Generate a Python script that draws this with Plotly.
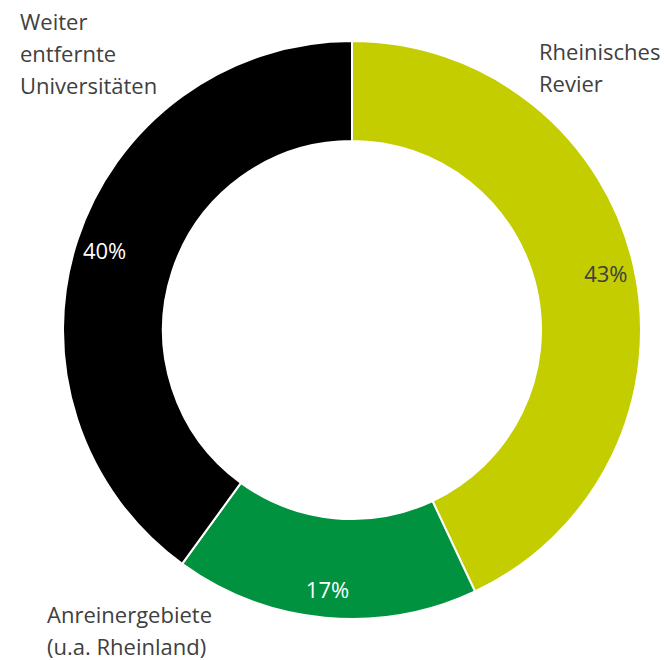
import plotly.graph_objects as go

labels = ["Rheinisches Revier", "Anreinergebiete (u.a. Rheinland)", "Weiter entfernte Universitäten"]
values = [43, 17, 40]
colors = ["#C3CD00", "#00923F", "#000000"]
text_colors = ["#404040", "#FFFFFF", "#FFFFFF"]

W, H = 664, 660
FONT = "Open Sans"

# ring position in pixels: outer circle 63..641 x 41..619
domain = dict(x=[63 / W, 641 / W], y=[(H - 619) / H, (H - 41) / H])

fig = go.Figure()

fig.add_trace(
    go.Pie(
        labels=labels,
        values=values,
        hole=0.654,
        sort=False,
        direction="clockwise",
        rotation=0,
        marker=dict(colors=colors, line=dict(color="#FFFFFF", width=2)),
        textinfo="none",
        hoverinfo="label+percent",
        domain=domain,
        showlegend=False,
    )
)

# transparent outer ring that only carries the percentage labels,
# so they sit a bit outside the middle of the ring like in the original
fig.add_trace(
    go.Pie(
        labels=labels,
        values=values,
        hole=0.8,
        sort=False,
        direction="clockwise",
        rotation=0,
        marker=dict(colors=["rgba(0,0,0,0)"] * 3, line=dict(width=0)),
        texttemplate="%{value}%",
        textposition="inside",
        insidetextorientation="horizontal",
        textfont=dict(family=FONT, size=22, color=text_colors),
        hoverinfo="skip",
        domain=domain,
        showlegend=False,
    )
)

label_font = dict(family=FONT, size=22, color="#404040")
corner_labels = [
    (["Weiter", "entfernte", "Universitäten"], 18, 21),
    (["Rheinisches", "Revier"], 537, 51),
    (["Anreinergebiete", "(u.a. Rheinland)"], 45, 614),
]
for lines, px_x, px_y in corner_labels:
    for i, line in enumerate(lines):
        fig.add_annotation(
            text=line,
            x=px_x / W,
            y=1 - (px_y + 32 * i) / H,
            xref="paper",
            yref="paper",
            xanchor="left",
            yanchor="middle",
            align="left",
            showarrow=False,
            font=label_font,
        )

fig.update_layout(
    width=W,
    height=H,
    margin=dict(l=0, r=0, t=0, b=0),
    paper_bgcolor="#FFFFFF",
    plot_bgcolor="#FFFFFF",
)

fig.write_html(
    "out.html",
    config={"displayModeBar": False},
    post_script="document.body.style.margin='0';",
)
